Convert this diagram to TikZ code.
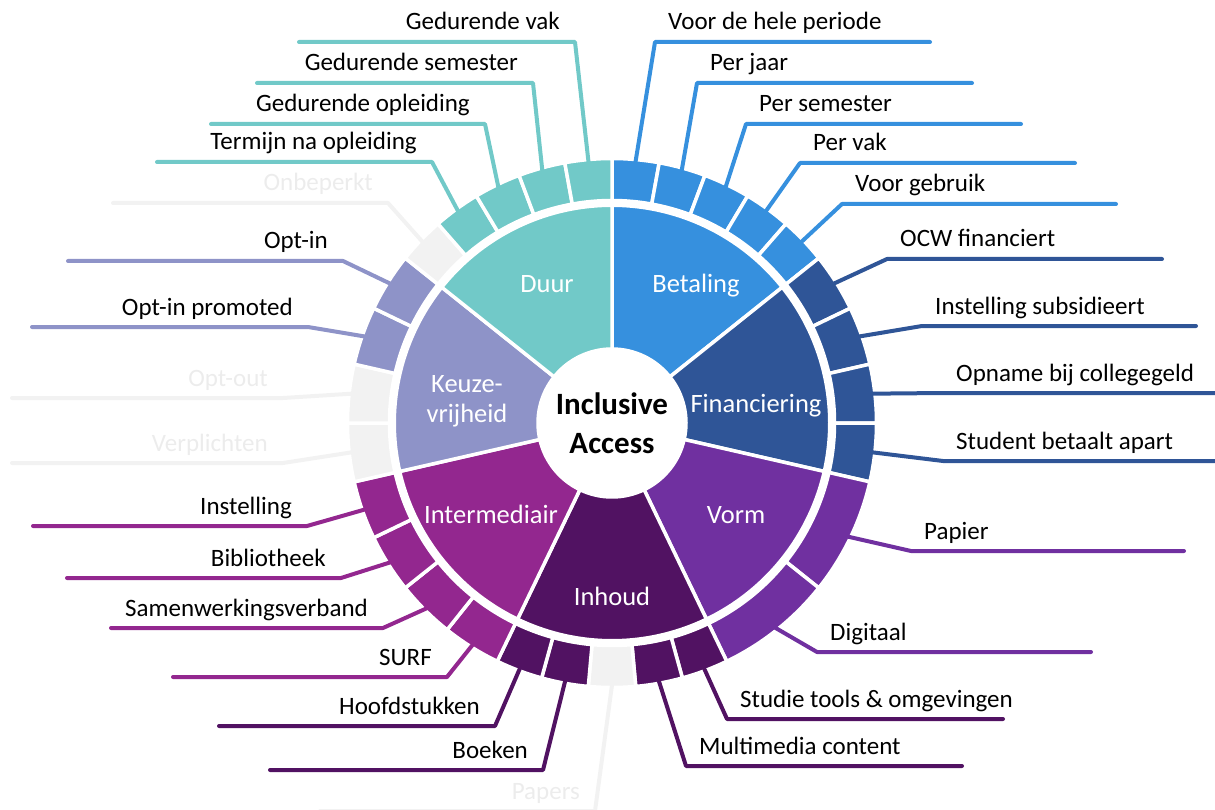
\documentclass[tikz,border=0pt]{standalone}
\usepackage{fontspec}
\setmainfont{Carlito}
\usepackage[HTML]{xcolor}
\usepackage{tikz}

\definecolor{duur}{HTML}{71C9C8}
\definecolor{betaling}{HTML}{3690DE}
\definecolor{financiering}{HTML}{2F5597}
\definecolor{vorm}{HTML}{7030A0}
\definecolor{inhoud}{HTML}{511262}
\definecolor{intermediair}{HTML}{93278F}
\definecolor{keuze}{HTML}{8E93C8}
\definecolor{leeg}{HTML}{F2F2F2}
\definecolor{leegtekst}{HTML}{ECECEC}

% ring segment: colour, start angle, end angle, inner radius, outer radius
\newcommand{\ringpart}[5]{%
  \filldraw[part, fill=#1] (#2:#4pt) arc[start angle=#2, end angle=#3, radius=#4pt]
    -- (#3:#5pt) arc[start angle=#3, end angle=#2, radius=#5pt] -- cycle;}

\begin{document}
\begin{tikzpicture}[x=1pt, y=1pt,
  part/.style={shift={(612,-423)}, draw=white, line width=3.5pt},
  lead/.style={line width=4pt, line cap=round, line join=round},
  lbl/.style={font=\fontsize{25}{30}\selectfont, inner sep=0pt},
  cat/.style={font=\fontsize{26.5}{30}\selectfont, text=white, align=center, inner sep=0pt}]
\useasboundingbox (0,0) rectangle (1215,-810);
\coordinate (mid) at (612,-423);

% inner ring
\ringpart{betaling}{90}{38.5714}{74}{217.75}
\ringpart{financiering}{38.5714}{-12.8571}{74}{217.75}
\ringpart{vorm}{-12.8571}{-64.2857}{74}{217.75}
\ringpart{inhoud}{-64.2857}{-115.7143}{74}{217.75}
\ringpart{intermediair}{-115.7143}{-167.1429}{74}{217.75}
\ringpart{keuze}{-167.1429}{-218.5714}{74}{217.75}
\ringpart{duur}{141.4286}{90}{74}{217.75}

% outer ring, labels on the right
\foreach \sa/\sw/\col/\bx/\by/\ex/\tcol/\txt [count=\i] in {
  90/10.2857/betaling/655/42/930/black/Voor de hele periode,
  79.7143/10.2857/betaling/697/83/972/black/Per jaar,
  69.4286/10.2857/betaling/746/124/1021/black/Per semester,
  59.1429/10.2857/betaling/800/163/1075/black/Per vak,
  48.8571/10.2857/betaling/842/204/1116/black/Voor gebruik,
  38.5714/12.8571/financiering/887/259/1162/black/OCW financiert,
  25.7143/12.8571/financiering/922/326/1196/black/Instelling subsidieert,
  12.8571/12.8571/financiering/943/393/1225/black/Opname bij collegegeld,
  0/12.8571/financiering/943/461/1225/black/Student betaalt apart,
  -12.8571/25.7143/vorm/911/551/1184/black/Papier,
  -38.5714/25.7143/vorm/817/652/1091/black/Digitaal,
  -64.2857/10.2857/inhoud/727/719/1003/black/Studie tools \& omgevingen,
  -74.5714/10.2857/inhoud/686/766/962/black/Multimedia content}{
  \pgfmathsetmacro\ea{\sa-\sw}
  \pgfmathsetmacro\ma{\sa-\sw/2}
  \ringpart{\col}{\sa}{\ea}{222.5}{264.5}
  \path (mid) ++(\ma:262pt) coordinate (rs\i);
  \coordinate (rk\i) at (\bx,-\by);
  \coordinate (re\i) at (\ex,-\by);
  \draw[lead, \col] (rs\i) -- (rk\i) -- (re\i);
  \node[lbl, text=\tcol, anchor=base west] (rt\i) at ([xshift=13pt, yshift=12pt]rk\i) {\txt};
}

% outer ring, labels on the left
\foreach \sa/\sw/\col/\bx/\by/\ex/\tcol/\txt [count=\i] in {
  -84.8571/10.2857/leeg/595/811/320/leegtekst/Papers,
  -95.1429/10.2857/inhoud/543/770/270/black/Boeken,
  -105.4286/10.2857/inhoud/495/726/219/black/Hoofdstukken,
  -115.7143/12.8571/intermediair/447/677/173/black/SURF,
  -128.5714/12.8571/intermediair/383/628/111/black/Samenwerkingsverband,
  -141.4286/12.8571/intermediair/341/578/67/black/Bibliotheek,
  -154.2857/12.8571/intermediair/307/526/33/black/Instelling,
  -167.1429/12.8571/leeg/283/463/12/leegtekst/Verplichten,
  -180/12.8571/leeg/283/398/12/leegtekst/Opt-out,
  -192.8571/12.8571/keuze/308/327/32/black/Opt-in promoted,
  -205.7143/12.8571/keuze/343/261/68/black/Opt-in,
  141.4286/10.2857/leeg/388/203/113/leegtekst/Onbeperkt,
  131.1429/10.2857/duur/432/162/157/black/Termijn na opleiding,
  120.8571/10.2857/duur/485/124/211/black/Gedurende opleiding,
  110.5714/10.2857/duur/533/83/257/black/Gedurende semester,
  100.2857/10.2857/duur/575/42/299/black/Gedurende vak}{
  \pgfmathsetmacro\ea{\sa-\sw}
  \pgfmathsetmacro\ma{\sa-\sw/2}
  \ringpart{\col}{\sa}{\ea}{222.5}{264.5}
  \path (mid) ++(\ma:262pt) coordinate (ls\i);
  \coordinate (lk\i) at (\bx,-\by);
  \coordinate (le\i) at (\ex,-\by);
  \draw[lead, \col] (ls\i) -- (lk\i) -- (le\i);
  \node[lbl, text=\tcol, anchor=base east] (lt\i) at ([xshift=-15pt, yshift=12pt]lk\i) {\txt};
}

% category names
\node[cat, anchor=base] (duurtxt) at (547,-292) {Duur};
\node[cat, anchor=base] (betalingtxt) at (696,-292) {Betaling};
\node[cat, anchor=base] (financieringtxt) at (756,-412) {Financiering};
\node[cat, anchor=base] (vormtxt) at (736,-523) {Vorm};
\node[cat, anchor=base] (inhoudtxt) at (612,-605) {Inhoud};
\node[cat, anchor=base] (intermediairtxt) at (491,-523) {Intermediair};
\node[cat] (keuzetxt) at (467,-401) {Keuze-\\vrijheid};

% centre
\node[font=\bfseries\fontsize{31}{39}\selectfont, align=center, inner sep=0pt] (ia) at (mid) {Inclusive\\Access};
\end{tikzpicture}
\end{document}
